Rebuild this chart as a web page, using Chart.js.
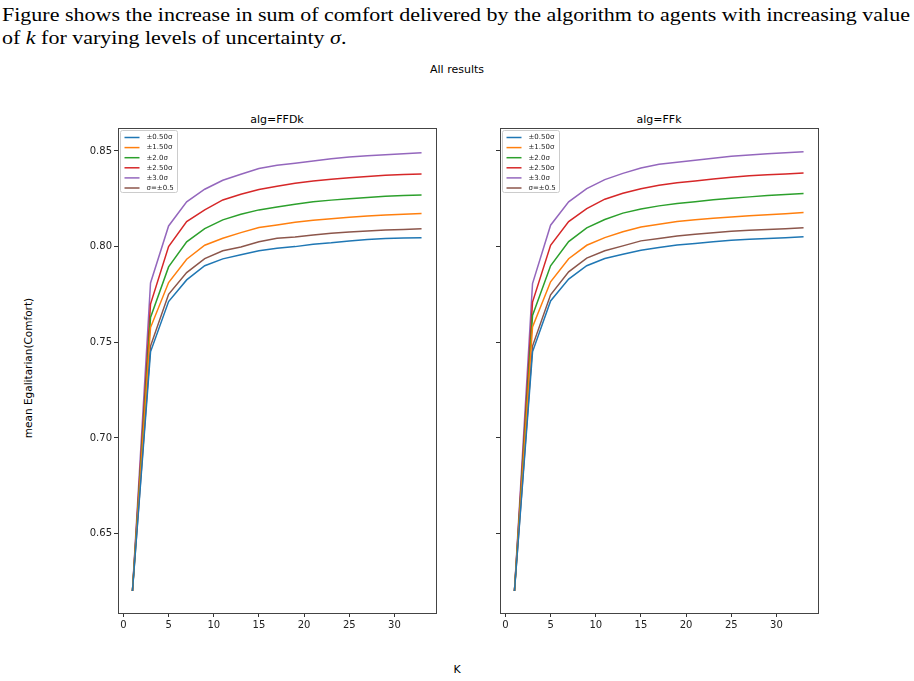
<!DOCTYPE html>
<html>
<head>
<meta charset="utf-8">
<script src="https://cdn.jsdelivr.net/npm/chart.js@4.4.1/dist/chart.umd.min.js"></script>
<style>
  body { margin: 0; background: #fff; width: 914px; height: 681px; overflow: hidden; position: relative; }
  .txt { position: absolute; font-family: "DejaVu Sans", sans-serif; color: #000; white-space: nowrap; }
  .cap { position: absolute; left: 2px; font-family: "Liberation Serif", serif; font-size: 19.5px; color: #000; white-space: nowrap; transform-origin: 0 0; }
  canvas { position: absolute; }
</style>
</head>
<body>
<div class="cap" id="cap1" style="top:4px;">Figure shows the increase in sum of comfort delivered by the algorithm to agents with increasing value</div>
<div class="cap" id="cap2" style="top:27px;">of <i>k</i> for varying levels of uncertainty <i>σ</i>.</div>
<div class="txt" style="left:457px;top:63px;font-size:11px;transform:translateX(-50%);">All results</div>
<div class="txt" style="left:277px;top:113px;font-size:11px;transform:translateX(-50%);">alg=FFDk</div>
<div class="txt" style="left:659px;top:113px;font-size:11px;transform:translateX(-50%);">alg=FFk</div>
<div class="txt" style="left:457px;top:663px;font-size:11px;transform:translateX(-50%);">K</div>
<div class="txt" style="left:28px;top:368px;font-size:10.5px;transform:translate(-50%,-50%) rotate(-90deg);">mean Egalitarian(Comfort)</div>
<canvas id="chart_ffdk" width="420" height="545" style="left:40px;top:100px;"></canvas>
<canvas id="chart_ffk" width="420" height="545" style="left:422px;top:100px;"></canvas>
<script>
// values
var kValues = [1, 3, 5, 7, 9, 11, 13, 15, 17, 19, 21, 23, 25, 27, 29, 31, 33];
var seriesLabels = ["±0.50σ", "±1.50σ", "±2.0σ", "±2.50σ", "±3.0σ", "σ=±0.5"];
var xTickValues = [0, 5, 10, 15, 20, 25, 30];
var yTickValues = [0.65, 0.70, 0.75, 0.80, 0.85];

// alg=FFDk
var ffdk050 = [0.620, 0.745, 0.7713, 0.7826, 0.790, 0.7936, 0.7957, 0.7978, 0.7992, 0.800, 0.8013, 0.802, 0.803, 0.8037, 0.8042, 0.8045, 0.8047];
var ffdk150 = [0.620, 0.7577, 0.7812, 0.7934, 0.8007, 0.8044, 0.8073, 0.810, 0.8113, 0.8127, 0.8138, 0.8146, 0.8153, 0.816, 0.8165, 0.8169, 0.8173];
var ffdk200 = [0.620, 0.763, 0.7894, 0.8025, 0.8094, 0.814, 0.8169, 0.8192, 0.8207, 0.8222, 0.8234, 0.8243, 0.825, 0.8257, 0.8263, 0.8267, 0.827];
var ffdk250 = [0.620, 0.770, 0.800, 0.8131, 0.8192, 0.8244, 0.8274, 0.8298, 0.8315, 0.8331, 0.8343, 0.8352, 0.836, 0.8367, 0.8373, 0.8377, 0.838];
var ffdk300 = [0.620, 0.781, 0.8108, 0.8234, 0.830, 0.8347, 0.8378, 0.8408, 0.8425, 0.8436, 0.8448, 0.8459, 0.8469, 0.8475, 0.848, 0.8485, 0.8491];
var ffdkSig = [0.620, 0.748, 0.7751, 0.7864, 0.7937, 0.7978, 0.7998, 0.8025, 0.8044, 0.805, 0.8061, 0.807, 0.8077, 0.8082, 0.8087, 0.809, 0.8094];

// alg=FFk
var ffk050 = [0.620, 0.745, 0.7716, 0.783, 0.790, 0.7938, 0.796, 0.7981, 0.7995, 0.8009, 0.8016, 0.8025, 0.8033, 0.8038, 0.8042, 0.8047, 0.8051];
var ffk150 = [0.620, 0.758, 0.7816, 0.7937, 0.8007, 0.8047, 0.8078, 0.8103, 0.8117, 0.8131, 0.814, 0.8148, 0.8155, 0.8161, 0.8167, 0.8172, 0.8178];
var ffk200 = [0.620, 0.764, 0.790, 0.8026, 0.8098, 0.8142, 0.8175, 0.8197, 0.8213, 0.8225, 0.8235, 0.8245, 0.8253, 0.826, 0.8267, 0.8272, 0.8277];
var ffk250 = [0.620, 0.771, 0.8007, 0.8131, 0.8199, 0.8248, 0.8279, 0.8303, 0.8321, 0.8334, 0.8343, 0.8354, 0.8363, 0.837, 0.8376, 0.838, 0.8385];
var ffk300 = [0.620, 0.7807, 0.8112, 0.8234, 0.8303, 0.835, 0.8383, 0.8411, 0.843, 0.8441, 0.8451, 0.8462, 0.8472, 0.8479, 0.8486, 0.8491, 0.8496];
var ffkSig = [0.620, 0.748, 0.7748, 0.7868, 0.794, 0.7978, 0.8004, 0.803, 0.8042, 0.8056, 0.8065, 0.8073, 0.808, 0.8085, 0.8089, 0.8094, 0.8098];

var colors = ["#1f77b4", "#ff7f0e", "#2ca02c", "#d62728", "#9467bd", "#8c564b"];

// stretch the caption like the LaTeX text it comes from
(function() {
  var c1 = document.getElementById("cap1"), c2 = document.getElementById("cap2");
  var s = 908 / c1.getBoundingClientRect().width;
  c1.style.transform = "scaleX(" + s + ")";
  c2.style.transform = "scaleX(" + s + ")";
})();

// matplotlib-ish legend box in the upper left + full box of spines
var framePlugin = {
  id: "frame",
  afterDatasetsDraw: function(chart) {
    var a = chart.chartArea, ctx = chart.ctx;
    var bx = Math.round(a.left) + 2.5, by = Math.round(a.top) + 2.5;
    ctx.save();
    ctx.fillStyle = "rgba(255,255,255,0.8)";
    ctx.strokeStyle = "#cccccc";
    ctx.lineWidth = 1;
    ctx.beginPath();
    ctx.roundRect(bx, by, 57, 62, 2);
    ctx.fill();
    ctx.stroke();
    ctx.font = "7px 'DejaVu Sans'";
    ctx.textBaseline = "middle";
    chart.data.datasets.forEach(function(ds, i) {
      var y = by + 7 + i * 10.1;
      ctx.strokeStyle = ds.borderColor;
      ctx.lineWidth = 1.5;
      ctx.beginPath();
      ctx.moveTo(bx + 4, y);
      ctx.lineTo(bx + 19, y);
      ctx.stroke();
      ctx.fillStyle = "#222";
      ctx.fillText(ds.label, bx + 26, y);
    });
    ctx.restore();
  },
  afterDraw: function(chart) {
    var a = chart.chartArea, ctx = chart.ctx;
    ctx.save();
    ctx.strokeStyle = "#444";
    ctx.lineWidth = 1;
    ctx.strokeRect(Math.round(a.left) + 0.5, Math.round(a.top) + 0.5, Math.round(a.right - a.left), Math.round(a.bottom - a.top));
    ctx.restore();
  }
};

function makeChart(id, seriesList, showYLabels) {
  var ctx = document.getElementById(id).getContext("2d");
  return new Chart(ctx, {
    type: "line",
    data: {
      datasets: seriesList.map(function(vals, i) {
        return {
          label: seriesLabels[i],
          data: kValues.map(function(k, j) { return { x: k, y: vals[j] }; }),
          borderColor: colors[i],
          backgroundColor: colors[i],
          borderWidth: 1.5,
          pointRadius: 0,
          tension: 0,
          fill: false
        };
      })
    },
    options: {
      responsive: false,
      animation: false,
      layout: { padding: { left: 30, top: 28, right: 24, bottom: 2 } },
      plugins: {
        legend: { display: false },
        tooltip: { enabled: false }
      },
      scales: {
        x: {
          type: "linear",
          min: -0.6,
          max: 34.6,
          afterBuildTicks: function(s) { s.ticks = xTickValues.map(function(v) { return { value: v }; }); },
          afterFit: function(s) { s.height = 30; },
          grid: { display: true, drawOnChartArea: false, drawTicks: true, tickLength: 4, color: "#333" },
          border: { display: false },
          ticks: { padding: 2, color: "#222", font: { family: "DejaVu Sans", size: 10 }, maxRotation: 0 }
        },
        y: {
          type: "linear",
          min: 0.6085,
          max: 0.862,
          afterBuildTicks: function(s) { s.ticks = yTickValues.map(function(v) { return { value: v }; }); },
          afterFit: function(s) { s.width = 48; },
          grid: { display: true, drawOnChartArea: false, drawTicks: true, tickLength: 4, color: "#333" },
          border: { display: false },
          ticks: {
            padding: 2,
            color: "#222",
            font: { family: "DejaVu Sans", size: 10 },
            callback: function(v) { return showYLabels ? v.toFixed(2) : ""; }
          }
        }
      }
    },
    plugins: [framePlugin]
  });
}

makeChart("chart_ffdk", [ffdk050, ffdk150, ffdk200, ffdk250, ffdk300, ffdkSig], true);
makeChart("chart_ffk", [ffk050, ffk150, ffk200, ffk250, ffk300, ffkSig], false);
</script>
</body>
</html>
